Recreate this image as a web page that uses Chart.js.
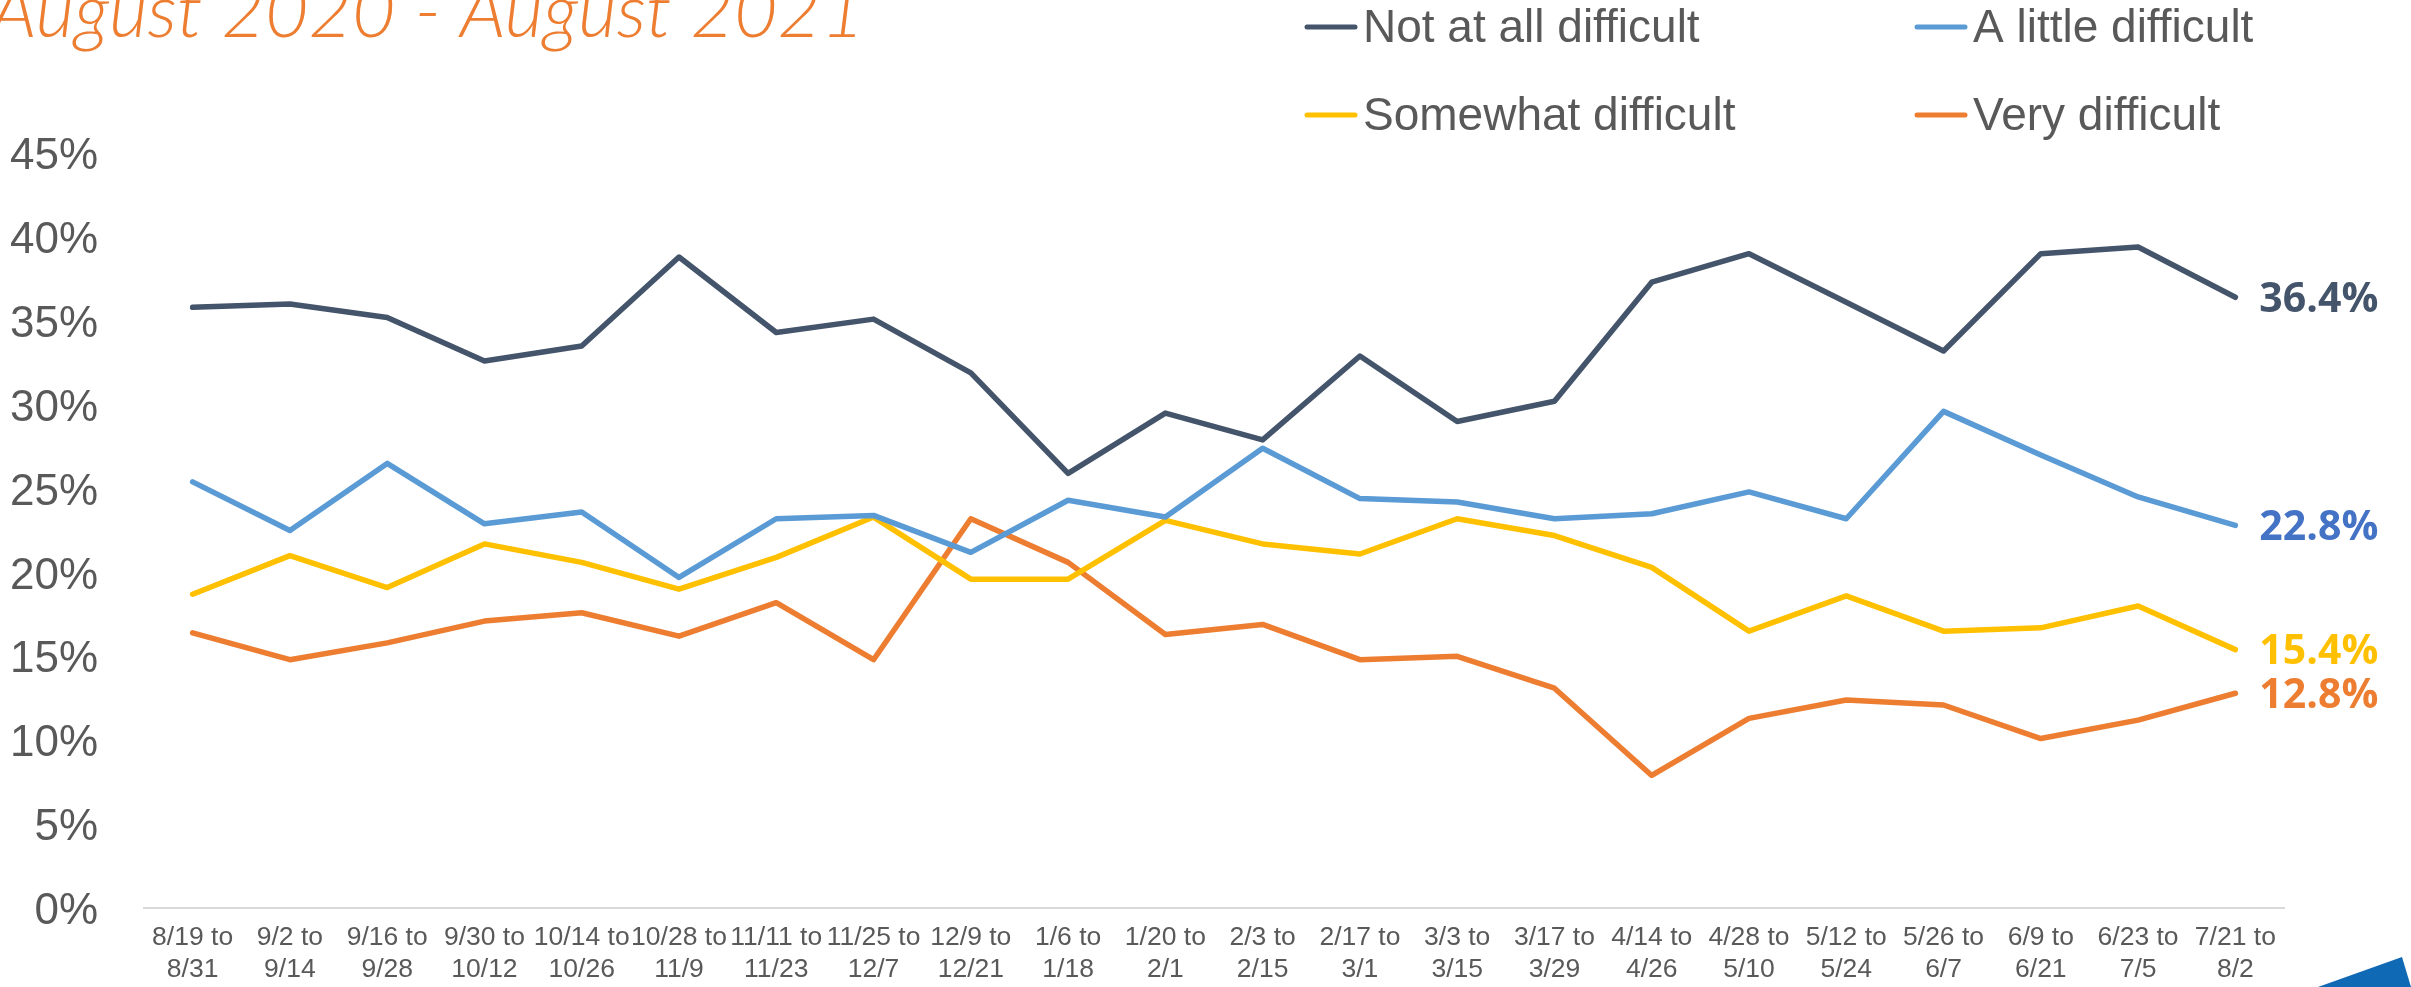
<!DOCTYPE html>
<html>
<head>
<meta charset="utf-8">
<script src="https://cdn.jsdelivr.net/npm/chart.js@4.4.1/dist/chart.umd.min.js"></script>
<style>
  html, body { margin: 0; padding: 0; background: #ffffff; }
  #wrap { width: 2411px; height: 987px; position: relative; overflow: hidden; }
</style>
</head>
<body>
<div id="wrap"><canvas id="difficultyChart" width="2411" height="987"></canvas></div>
<script>
// Two-week survey periods, Aug 2020 - Aug 2021
const periods = [
  ['8/19 to', '8/31'], ['9/2 to', '9/14'], ['9/16 to', '9/28'], ['9/30 to', '10/12'],
  ['10/14 to', '10/26'], ['10/28 to', '11/9'], ['11/11 to', '11/23'], ['11/25 to', '12/7'],
  ['12/9 to', '12/21'], ['1/6 to', '1/18'], ['1/20 to', '2/1'], ['2/3 to', '2/15'],
  ['2/17 to', '3/1'], ['3/3 to', '3/15'], ['3/17 to', '3/29'], ['4/14 to', '4/26'],
  ['4/28 to', '5/10'], ['5/12 to', '5/24'], ['5/26 to', '6/7'], ['6/9 to', '6/21'],
  ['6/23 to', '7/5'], ['7/21 to', '8/2'],
];

const notAtAll = [35.8, 36.0, 35.2, 32.6, 33.5, 38.8, 34.3, 35.1, 31.9, 25.9, 29.5, 27.9, 32.9, 29.0, 30.2, 37.3, 39.0, 36.1, 33.2, 39.0, 39.4, 36.4];
const aLittle = [25.4, 22.5, 26.5, 22.9, 23.6, 19.7, 23.2, 23.4, 21.2, 24.3, 23.3, 27.4, 24.4, 24.2, 23.2, 23.5, 24.8, 23.2, 29.6, 27.0, 24.5, 22.8];
const somewhat = [18.7, 21.0, 19.1, 21.7, 20.6, 19.0, 20.9, 23.3, 19.6, 19.6, 23.1, 21.7, 21.1, 23.2, 22.2, 20.3, 16.5, 18.6, 16.5, 16.7, 18.0, 15.4];
const veryDifficult = [16.4, 14.8, 15.8, 17.1, 17.6, 16.2, 18.2, 14.8, 23.2, 20.6, 16.3, 16.9, 14.8, 15.0, 13.1, 7.9, 11.3, 12.4, 12.1, 10.1, 11.2, 12.8];

const seriesNames = ['Not at all difficult', 'A little difficult', 'Somewhat difficult', 'Very difficult'];
const seriesValues = [notAtAll, aLittle, somewhat, veryDifficult];

const yTicks = [0, 5, 10, 15, 20, 25, 30, 35, 40, 45];
const titleText = 'August 2020 - August 2021';

const lineColors = ['#44546A', '#5B9BD5', '#FFC000', '#ED7D31'];
const endLabelColors = ['#44546A', '#4472C4', '#FFC000', '#ED7D31'];
const GREY = '#595959';

// title, legend, end-of-line labels and the corner shape
const decorPlugin = {
  id: 'decor',
  afterDraw(chart) {
    const ctx = chart.ctx;
    ctx.save();

    ctx.fillStyle = '#ED7D31';
    ctx.font = 'italic 300 75px Lato, "Open Sans", sans-serif';
    ctx.textAlign = 'left';
    ctx.textBaseline = 'alphabetic';
    ctx.fillText(titleText, -9, 37);

    // legend in a 2 x 2 grid
    const cols = [1305, 1915];
    const rows = [27, 115];
    chart.data.datasets.forEach((ds, i) => {
      const x = cols[i % 2];
      const y = rows[Math.floor(i / 2)];
      ctx.strokeStyle = ds.borderColor;
      ctx.lineWidth = 5;
      ctx.lineCap = 'round';
      ctx.beginPath();
      ctx.moveTo(x + 2, y);
      ctx.lineTo(x + 50, y);
      ctx.stroke();
      ctx.fillStyle = GREY;
      ctx.font = '46px "Liberation Sans", Arial, sans-serif';
      ctx.textBaseline = 'middle';
      ctx.fillText(ds.label, x + 58, y + 2);
    });

    // value labels at the end of each line
    chart.data.datasets.forEach((ds, i) => {
      const meta = chart.getDatasetMeta(i);
      const last = meta.data[meta.data.length - 1];
      const v = ds.data[ds.data.length - 1];
      ctx.fillStyle = endLabelColors[i];
      ctx.font = 'bold 41px "Open Sans", sans-serif';
      ctx.textBaseline = 'middle';
      ctx.textAlign = 'left';
      ctx.fillText(v.toFixed(1) + '%', last.x + 24, last.y + 3);
    });

    ctx.fillStyle = '#1069B4';
    ctx.beginPath();
    ctx.moveTo(2318, 987);
    ctx.lineTo(2402, 957);
    ctx.lineTo(2411, 987);
    ctx.closePath();
    ctx.fill();

    ctx.restore();
  },
};

const ctx = document.getElementById('difficultyChart').getContext('2d');
window.difficultyChart = new Chart(ctx, {
  type: 'line',
  data: {
    labels: periods,
    datasets: seriesNames.map((name, i) => ({
      label: name,
      data: seriesValues[i],
      borderColor: lineColors[i],
      backgroundColor: lineColors[i],
      borderWidth: 5.5,
      borderCapStyle: 'round',
      borderJoinStyle: 'round',
      pointRadius: 0,
      tension: 0,
      fill: false,
    })),
  },
  options: {
    responsive: false,
    animation: false,
    layout: { padding: { top: 153, right: 127, bottom: 0, left: 0 } },
    plugins: {
      legend: { display: false },
      tooltip: { enabled: false },
    },
    scales: {
      x: {
        offset: true,
        grid: { display: false, drawTicks: false },
        border: { display: true, color: '#D9D9D9', width: 2 },
        ticks: {
          autoSkip: false,
          maxRotation: 0,
          minRotation: 0,
          padding: 14,
          color: GREY,
          font: { family: '"Liberation Sans", Arial, sans-serif', size: 26.5, lineHeight: '32px' },
        },
        afterFit: scale => { scale.height = 79; },
      },
      y: {
        min: yTicks[0],
        max: yTicks[yTicks.length - 1],
        afterBuildTicks: scale => { scale.ticks = yTicks.map(v => ({ value: v })); },
        grid: { display: false, drawTicks: false },
        border: { display: false },
        ticks: {
          padding: 46,
          color: GREY,
          // empty first line nudges the text down to sit level with the value
          font: { family: '"Liberation Sans", Arial, sans-serif', size: 44, lineHeight: '8px' },
          callback: v => ['', v + '%'],
        },
        afterFit: scale => { scale.width = 144; },
      },
    },
  },
  plugins: [decorPlugin],
});
</script>
</body>
</html>
